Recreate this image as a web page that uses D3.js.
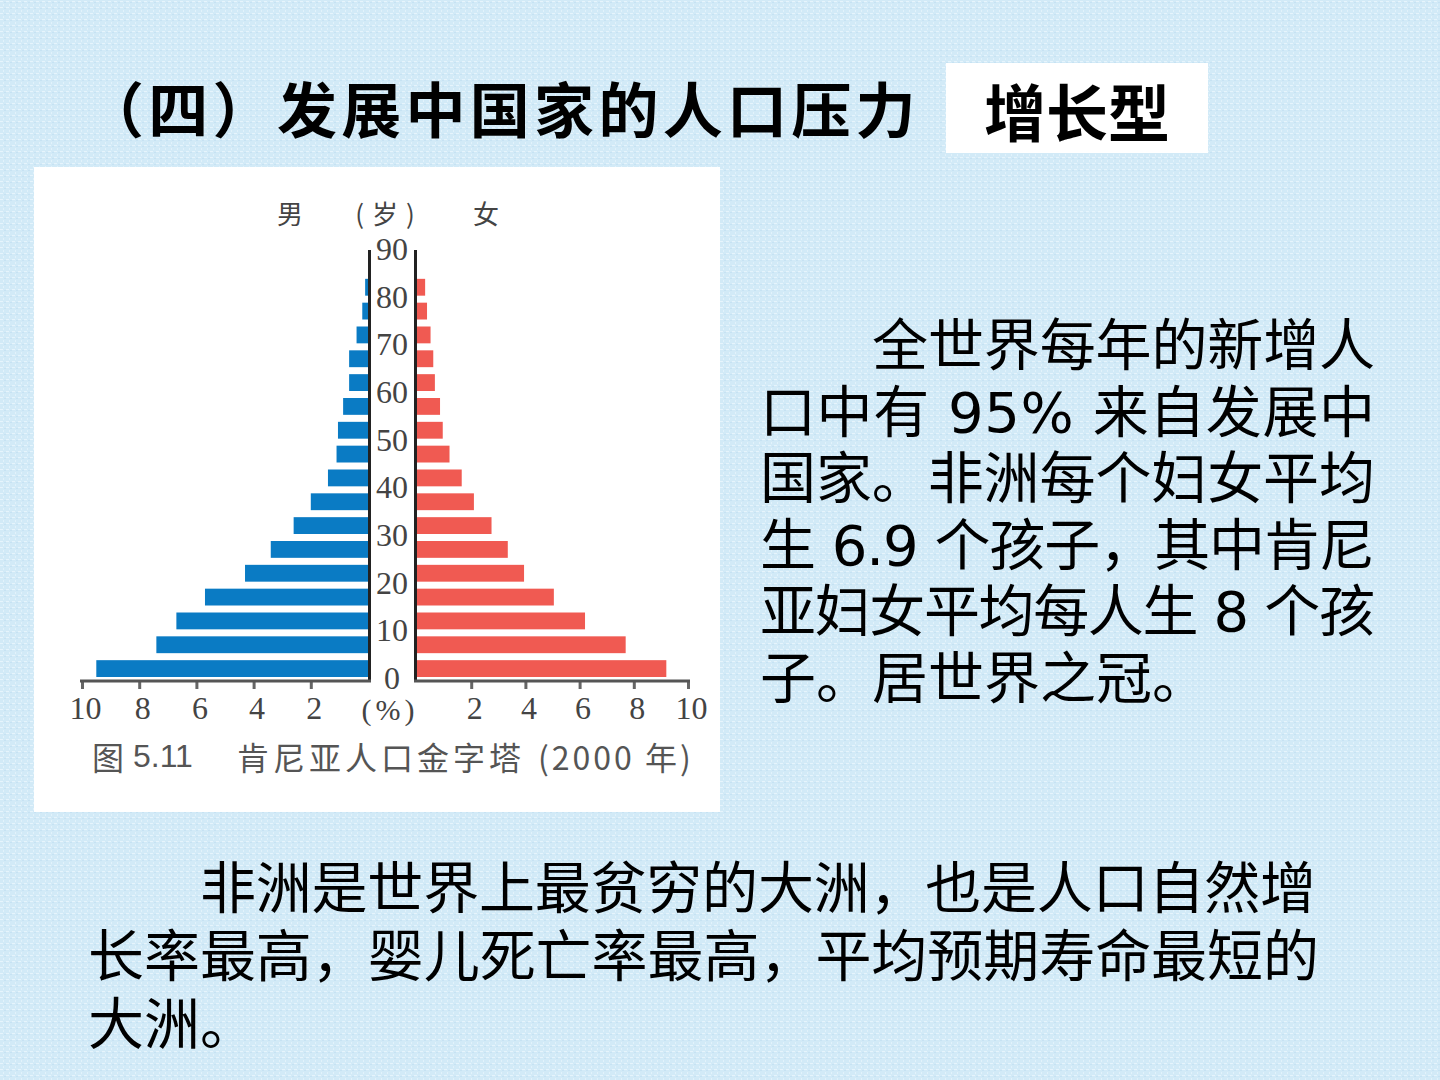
<!DOCTYPE html>
<html><head><meta charset="utf-8">
<script src="https://cdn.jsdelivr.net/npm/d3@7"></script>
<style>body{margin:0;background:#d4ebf8;} svg{display:block}</style>
</head><body>
<script>
// ---- data ----
const ageGroups = ["0-4","5-9","10-14","15-19","20-24","25-29","30-34","35-39","40-44","45-49","50-54","55-59","60-64","65-69","70-74","75-79","80-84"];
const ageStarts = [0,5,10,15,20,25,30,35,40,45,50,55,60,65,70,75,80];
const maleValues   = [9.5,7.4,6.7,5.7,4.3,3.4,2.6,2.0,1.4,1.1,1.05,0.87,0.66,0.66,0.4,0.2,0.1];
const femaleValues = [9.2,7.7,6.2,5.05,3.95,3.35,2.75,2.1,1.65,1.2,0.95,0.85,0.66,0.6,0.5,0.37,0.3];
const ageTicks = [0,10,20,30,40,50,60,70,80,90];
const pctTicks = [2,4,6,8,10];
const titleText = "（四）发展中国家的人口压力";
const tagText = "增长型";
const headerMale = "男", headerUnit = "(岁)", headerFemale = "女";
const pctUnit = "(%)";
const captionParts = ["图", "5.11", "肯尼亚人口金字塔", "(2000 年)"];
const sideLines = ["全世界每年的新增人","口中有 95% 来自发展中","国家。非洲每个妇女平均","生 6.9 个孩子，其中肯尼","亚妇女平均每人生 8 个孩","子。居世界之冠。"];
const bottomLines = ["非洲是世界上最贫穷的大洲，也是人口自然增","长率最高，婴儿死亡率最高，平均预期寿命最短的","大洲。"];

// ---- drawing ----
const W = 1440, H = 1080;
const svg = d3.select("body").append("svg").attr("width", W).attr("height", H);
const defs = svg.append("defs");
const pat = defs.append("pattern").attr("id", "tex").attr("width", 6).attr("height", 6).attr("patternUnits", "userSpaceOnUse");
pat.append("rect").attr("width", 6).attr("height", 6).attr("fill", "#d2eaf7");
pat.append("rect").attr("x", 0).attr("y", 1).attr("width", 3).attr("height", 1).attr("fill", "#e6f4fc");
pat.append("rect").attr("x", 3).attr("y", 4).attr("width", 1).attr("height", 2).attr("fill", "#e2f2fb");
pat.append("rect").attr("x", 4).attr("y", 2).attr("width", 2).attr("height", 1).attr("fill", "#c6e2f3");
svg.append("rect").attr("width", W).attr("height", H).attr("fill", "url(#tex)");

const CJK = "'Noto Sans CJK SC','Noto Sans',sans-serif";
const TXT = "'DejaVu Sans','Noto Sans CJK SC',sans-serif";
const SERIF = "'Liberation Serif','DejaVu Serif',serif";

// title
svg.append("text").attr("x", 84).attr("y", 106).attr("dominant-baseline", "central")
  .attr("font-family", CJK).attr("font-weight", 700).attr("font-size", 60)
  .attr("letter-spacing", 4.3).attr("fill", "#000").text(titleText);

// tag box
svg.append("rect").attr("x", 946).attr("y", 63).attr("width", 262).attr("height", 90).attr("fill", "#fff");
svg.append("text").attr("x", 1077).attr("y", 110).attr("text-anchor", "middle").attr("dominant-baseline", "central")
  .attr("font-family", CJK).attr("font-weight", 700).attr("font-size", 62).attr("fill", "#000").text(tagText);

// chart panel
svg.append("rect").attr("x", 34).attr("y", 167).attr("width", 686).attr("height", 645).attr("fill", "#fff");

const y = d3.scaleLinear().domain([0, 90]).range([679, 250]);
const xL = d3.scaleLinear().domain([0, 10]).range([368, 82]);
const xR = d3.scaleLinear().domain([0, 10]).range([417, 688]);

const g = svg.append("g");
g.selectAll("rect.m").data(maleValues).join("rect").attr("class", "m")
  .attr("x", d => xL(d)).attr("width", d => xL(0) - xL(d))
  .attr("y", (d, i) => y(ageStarts[i] + 5) + 5)
  .attr("height", (d, i) => y(ageStarts[i]) - y(ageStarts[i] + 5) - 7)
  .attr("fill", "#0a7bc4");
g.selectAll("rect.f").data(femaleValues).join("rect").attr("class", "f")
  .attr("x", xR(0)).attr("width", d => xR(d) - xR(0))
  .attr("y", (d, i) => y(ageStarts[i] + 5) + 5)
  .attr("height", (d, i) => y(ageStarts[i]) - y(ageStarts[i] + 5) - 7)
  .attr("fill", "#f05a52");

// vertical axis lines
[369.5, 415.5].forEach(x => g.append("line").attr("x1", x).attr("x2", x).attr("y1", y(90)).attr("y2", 682)
  .attr("stroke", "#222").attr("stroke-width", 3));

// bottom axes
function styleAxis(sel) {
  sel.select(".domain").remove();
  sel.selectAll(".tick line").attr("stroke", "#666").attr("stroke-width", 3);
  sel.selectAll(".tick text").attr("font-family", SERIF).attr("font-size", 32).attr("fill", "#444").attr("dx", 3);
}
const axL = d3.axisBottom(xL).tickValues(pctTicks).tickSize(8).tickPadding(7).tickFormat(d3.format("d"));
const axR = d3.axisBottom(xR).tickValues(pctTicks).tickSize(8).tickPadding(7).tickFormat(d3.format("d"));
g.append("g").attr("transform", "translate(0,681)").call(axL).call(styleAxis);
g.append("g").attr("transform", "translate(0,681)").call(axR).call(styleAxis);
g.append("line").attr("x1", xL(10) - 2).attr("x2", 371).attr("y1", 681).attr("y2", 681).attr("stroke", "#555").attr("stroke-width", 3);
g.append("line").attr("x1", 414).attr("x2", xR(10) + 2).attr("y1", 681).attr("y2", 681).attr("stroke", "#555").attr("stroke-width", 3);

// age labels
g.selectAll("text.age").data(ageTicks).join("text").attr("class", "age")
  .attr("x", 392).attr("y", d => y(d) - 1).attr("text-anchor", "middle").attr("dominant-baseline", "central")
  .attr("font-family", SERIF).attr("font-size", 32).attr("fill", "#444").text(d => d);

g.append("text").attr("x", 390).attr("y", 709).attr("text-anchor", "middle").attr("dominant-baseline", "central")
  .attr("font-family", SERIF).attr("font-size", 30).attr("fill", "#444").attr("letter-spacing", 4).text(pctUnit);

// header
const hdr = [[290, headerMale, 0], [389, headerUnit, 8], [486, headerFemale, 0]];
g.selectAll("text.hdr").data(hdr).join("text").attr("class", "hdr")
  .attr("x", d => d[0]).attr("y", 212).attr("text-anchor", "middle").attr("dominant-baseline", "central")
  .attr("font-family", CJK).attr("font-size", 26).attr("letter-spacing", d => d[2]).attr("fill", "#444").text(d => d[1]);

// caption
const capX = [92, 133, 237, 538];
const capFonts = [CJK, "'Liberation Sans',sans-serif", CJK, CJK];
const capLS = [0, 0, 4, 3];
g.selectAll("text.cap").data(captionParts).join("text").attr("class", "cap")
  .attr("x", (d, i) => capX[i]).attr("y", 756).attr("dominant-baseline", "central")
  .attr("font-family", (d, i) => capFonts[i]).attr("font-size", 32).attr("letter-spacing", (d, i) => capLS[i])
  .attr("fill", "#555").text(d => d);

// side paragraph (justified lines, one tspan per line)
const sideStart = (i) => i === 0 ? 760 + 112 : 760;
const side = svg.append("text").attr("font-family", TXT).attr("font-size", 56).attr("fill", "#000");
side.selectAll("tspan").data(sideLines).join("tspan")
  .attr("x", (d, i) => sideStart(i)).attr("y", (d, i) => 345 + i * 66.6 + 20)
  .each(function (d, i) {
    if (i < sideLines.length - 1) d3.select(this).attr("textLength", 1375 - sideStart(i)).attr("lengthAdjust", "spacing");
  })
  .text(d => d);

// bottom paragraph
const botStart = (i) => i === 0 ? 88 + 112 : 88;
const botEnd = [1316, 1319];
const bot = svg.append("text").attr("font-family", TXT).attr("font-size", 56).attr("fill", "#000");
bot.selectAll("tspan").data(bottomLines).join("tspan")
  .attr("x", (d, i) => botStart(i)).attr("y", (d, i) => 888 + i * 68 + 20)
  .each(function (d, i) {
    if (i < bottomLines.length - 1) d3.select(this).attr("textLength", botEnd[i] - botStart(i)).attr("lengthAdjust", "spacing");
  })
  .text(d => d);
</script>
</body></html>
